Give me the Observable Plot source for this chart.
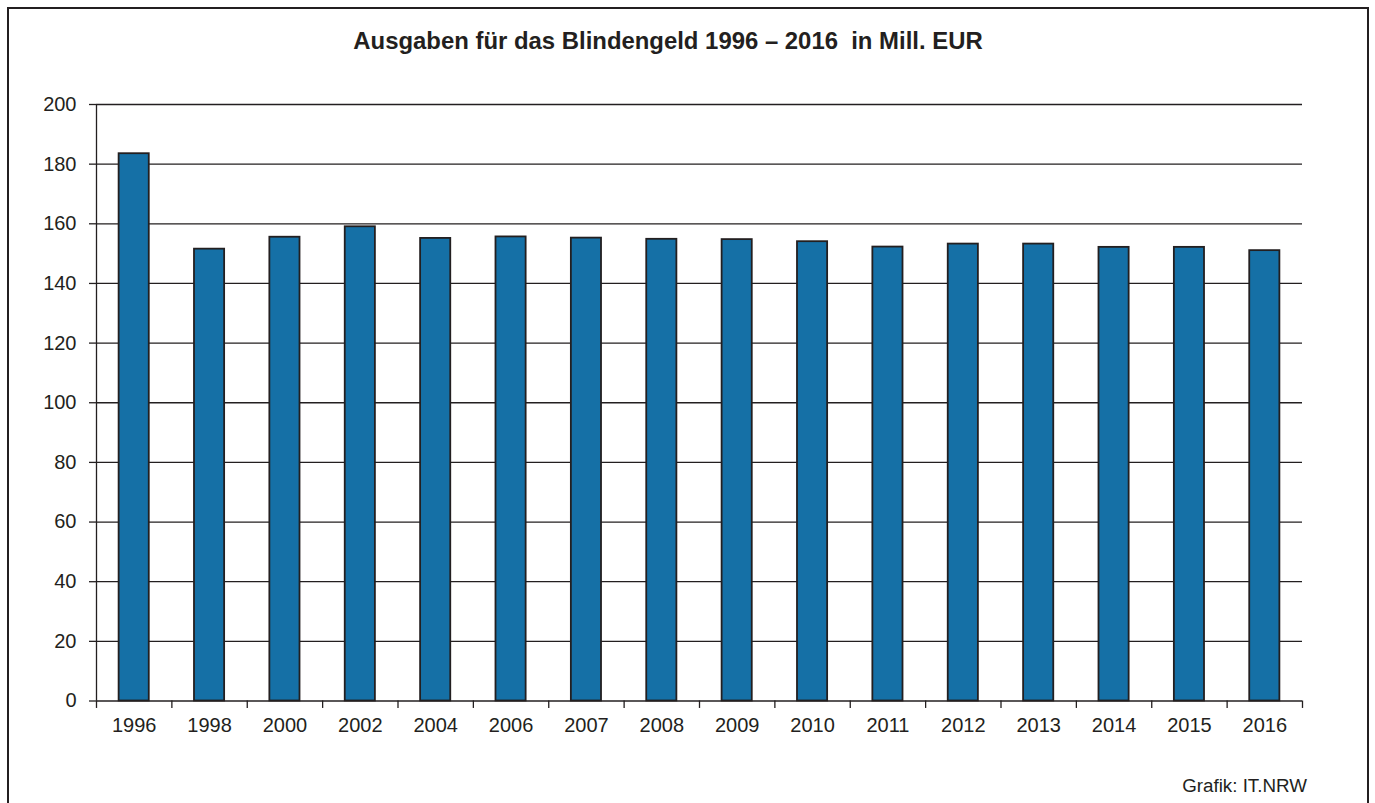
<!DOCTYPE html>
<html>
<head>
<meta charset="utf-8">
<script src="https://cdn.jsdelivr.net/npm/d3@7"></script>
<script src="https://cdn.jsdelivr.net/npm/@observablehq/plot@0.6"></script>
<style>
  html, body { margin: 0; padding: 0; background: #fff; overflow: hidden; }
  #wrap { position: relative; width: 1375px; height: 803px; font-family: "Liberation Sans", Arial, sans-serif; color: #231f20; }
  #title { height: 70px; line-height: 81px; text-align: center; font-weight: bold; font-size: 23.9px; white-space: pre; padding-right: 39px; }
  #caption { position: absolute; right: 68px; top: 775px; font-size: 18.8px; }
  #border { position: absolute; left: 7px; top: 7px; width: 1358px; height: 830px; border: 2.5px solid #231f20; pointer-events: none; }
  svg { display: block; }
</style>
</head>
<body>
<div id="wrap">
  <div id="title"></div>
  <div id="chart"></div>
  <div id="caption"></div>
  <div id="border"></div>
</div>
<script>
const titleText = "Ausgaben für das Blindengeld 1996 – 2016  in Mill. EUR";
const captionText = "Grafik: IT.NRW";
const years = ["1996","1998","2000","2002","2004","2006","2007","2008","2009","2010","2011","2012","2013","2014","2015","2016"];
const values = [183.5, 151.5, 155.5, 159.0, 155.1, 155.6, 155.2, 154.8, 154.7, 154.0, 152.2, 153.2, 153.2, 152.1, 152.1, 151.0];
const yTicks = [0, 20, 40, 60, 80, 100, 120, 140, 160, 180, 200];

document.getElementById("title").textContent = titleText;
document.getElementById("caption").textContent = captionText;

const data = years.map((y, i) => ({year: y, value: values[i]}));
const ink = "#231f20";
const step = (1302 - 96) / years.length;

const chart = Plot.plot({
  width: 1375,
  height: 680,
  marginLeft: 96,
  marginRight: 73,
  marginTop: 34,
  marginBottom: 49.5,
  style: {fontFamily: "'Liberation Sans', Arial, sans-serif", fontSize: "20px", color: ink, background: "white"},
  x: {domain: years, type: "band", paddingInner: 0.6, paddingOuter: 0.3, round: false, label: null},
  y: {domain: [0, 200], label: null},
  marks: [
    Plot.ruleY(yTicks, {stroke: ink, strokeWidth: 1.3}),
    Plot.barY(data, {x: "year", y: "value", fill: "#1570a6", stroke: ink, strokeWidth: 1.8}),
    Plot.ruleX(years, {x: d => d, y1: 0, y2: -2.5, dx: -step / 2, stroke: ink, strokeWidth: 1.3}),
    Plot.ruleX([years[years.length - 1]], {x: d => d, y1: 0, y2: -2.5, dx: step / 2, stroke: ink, strokeWidth: 1.3}),
    Plot.ruleX([years[0]], {x: d => d, y1: 0, y2: 200, dx: -step / 2, stroke: ink, strokeWidth: 1.3}),
    Plot.axisY({ticks: yTicks, tickSize: 7, tickPadding: 13, fontSize: 20, stroke: ink, strokeWidth: 1.3, label: null, fill: ink}),
    Plot.axisX({tickSize: 0, tickPadding: 17, fontSize: 20, label: null, fill: ink})
  ]
});
document.getElementById("chart").appendChild(chart);
</script>
</body>
</html>
